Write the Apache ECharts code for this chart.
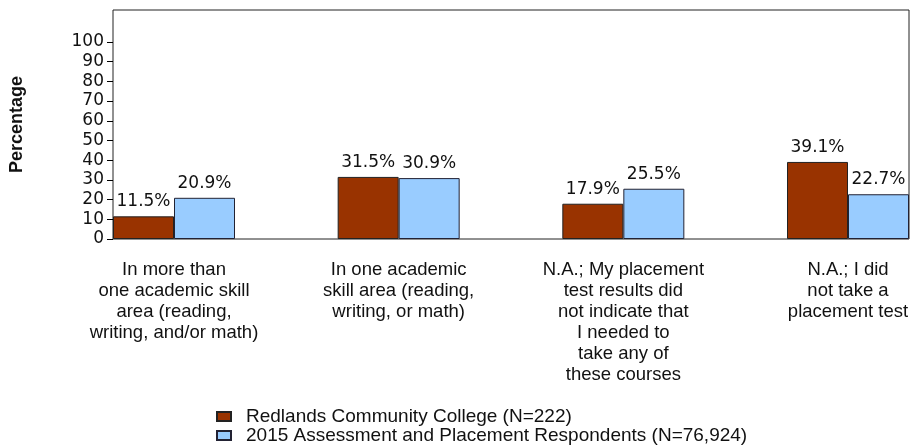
<!DOCTYPE html>
<html>
<head>
<meta charset="utf-8">
<script src="https://cdn.jsdelivr.net/npm/echarts@6/dist/echarts.min.js"></script>
<style>
  html, body { margin: 0; padding: 0; background: #fff; }
  #chart { width: 913px; height: 447px; }
</style>
</head>
<body>
<div id="chart"></div>
<script>
// categories and values
var categories = [
  'In more than\none academic skill\narea (reading,\nwriting, and/or math)',
  'In one academic\nskill area (reading,\nwriting, or math)',
  'N.A.; My placement\ntest results did\nnot indicate that\nI needed to\ntake any of\nthese courses',
  'N.A.; I did\nnot take a\nplacement test'
];
var collegeName = 'Redlands Community College (N=222)';
var respondentsName = '2015 Assessment and Placement Respondents (N=76,924)';
var collegeValues = [11.5, 31.5, 17.9, 39.1];
var respondentsValues = [20.9, 30.9, 25.5, 22.7];
var yTicks = [0, 10, 20, 30, 40, 50, 60, 70, 80, 90, 100];

var chart = echarts.init(document.getElementById('chart'));

var labelStyle = {
  show: true,
  position: 'top',
  distance: 6,
  fontFamily: 'DejaVu Sans',
  fontSize: 17,
  color: '#111',
  formatter: function (p) { return p.value.toFixed(1) + '%'; }
};

var option = {
  animation: false,
  grid: [
    // frame + y axis
    { left: 113, right: 4, top: 10, bottom: 208, show: true, borderColor: '#222', borderWidth: 1 },
    // bars: categories sit on points so the first group starts at the frame's left edge
    { left: 174, right: 65, top: 10, bottom: 208 }
  ],
  xAxis: [
    { gridIndex: 0, type: 'value', show: false },
    {
      gridIndex: 1,
      type: 'category',
      boundaryGap: false,
      data: categories,
      axisLine: { show: false },
      axisTick: { show: false },
      axisLabel: {
        interval: 0,
        margin: 20,
        fontFamily: 'Liberation Sans',
        fontSize: 18.5,
        lineHeight: 21,
        color: '#111',
        align: 'center'
      }
    }
  ],
  yAxis: [
    {
      gridIndex: 0,
      type: 'value',
      min: 0,
      max: 116.2,
      name: 'Percentage',
      nameLocation: 'middle',
      nameRotate: 90,
      nameGap: 87,
      nameTextStyle: { fontFamily: 'Liberation Sans', fontWeight: 'bold', fontSize: 18, color: '#111' },
      axisLine: { show: false },
      axisTick: { show: true, length: 6, inside: false, customValues: yTicks, lineStyle: { color: '#000' } },
      axisLabel: { margin: 9, fontFamily: 'DejaVu Sans', fontSize: 17, color: '#111', customValues: yTicks },
      splitLine: { show: false }
    },
    { gridIndex: 1, type: 'value', min: 0, max: 116.2, show: false, splitLine: { show: false } }
  ],
  legend: {
    orient: 'vertical',
    left: 216,
    top: 407,
    padding: 0,
    itemWidth: 14,
    itemHeight: 9,
    itemGap: 0,
    icon: 'rect',
    textStyle: { fontFamily: 'Liberation Sans', fontSize: 19, lineHeight: 19, color: '#111', padding: [0, 0, 0, 10] },
    data: [collegeName, respondentsName]
  },
  series: [
    {
      name: collegeName,
      type: 'bar',
      xAxisIndex: 1,
      yAxisIndex: 1,
      data: collegeValues,
      barWidth: 61,
      barGap: '0%',
      itemStyle: { color: '#993300', borderColor: '#222', borderWidth: 1 },
      label: labelStyle
    },
    {
      name: respondentsName,
      type: 'bar',
      xAxisIndex: 1,
      yAxisIndex: 1,
      data: respondentsValues,
      barWidth: 61,
      barGap: '0%',
      itemStyle: { color: '#99ccff', borderColor: '#223', borderWidth: 1 },
      label: labelStyle
    }
  ]
};

chart.setOption(option);
</script>
</body>
</html>
